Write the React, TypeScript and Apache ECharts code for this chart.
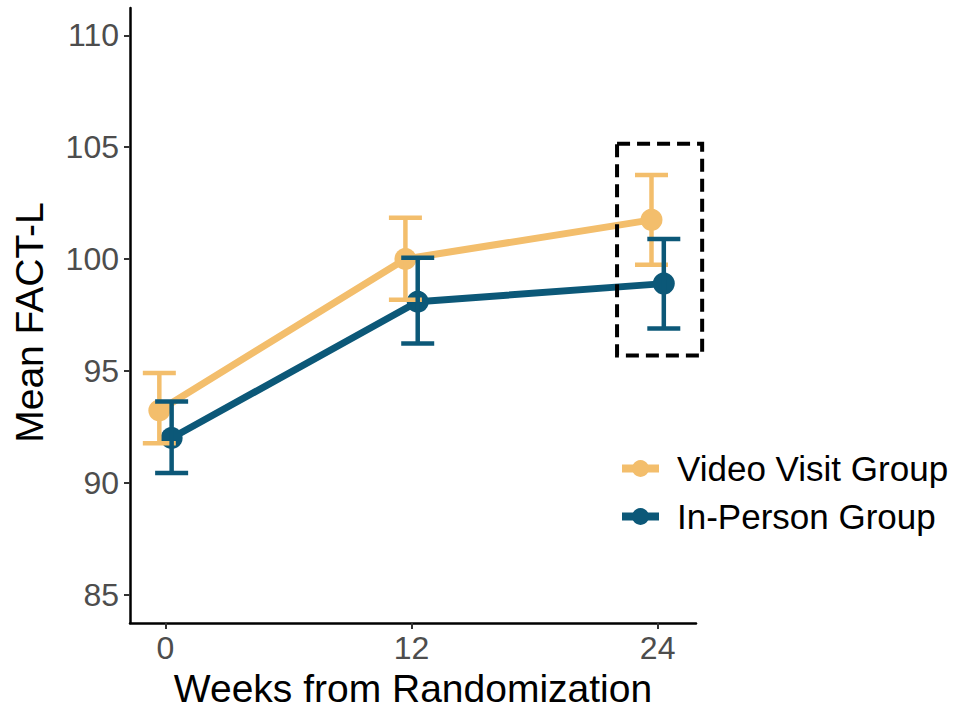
import React, { useEffect, useRef } from "react";
import * as echarts from "echarts";

const weeks = [0, 12, 24];
const groupNames = ["Video Visit Group", "In-Person Group"];
const videoMean = [93.23, 100.0, 101.75];
const videoLower = [91.77, 98.18, 99.74];
const videoUpper = [94.9, 101.84, 103.76];
const inPersonMean = [92.0, 98.09, 98.9];
const inPersonLower = [90.44, 96.22, 96.89];
const inPersonUpper = [93.63, 100.06, 100.9];
const dodge = [-0.3, 0.3];
const xTicks = [0, 12, 24];
const yTicks = [85, 90, 95, 100, 105, 110];
// highlight box: [week from, FACT-L top, week to, FACT-L bottom]
const highlightBox = [22.02, 105.15, 26.17, 95.69];

const colors = ["#F3BE6C", "#0C5878"];
const FONT = "Liberation Sans, Arial, sans-serif";

function errorSeries(g: number, lower: number[], upper: number[]) {
  const color = colors[g];
  return {
    type: "custom",
    z: 4,
    data: weeks.map((w, i) => [w + dodge[g], lower[i], upper[i]]),
    encode: { x: 0, y: [1, 2] },
    renderItem: (params: any, api: any) => {
      const x = api.value(0);
      const top = api.coord([x, api.value(2)]);
      const bot = api.coord([x, api.value(1)]);
      const half = 16.5;
      const st = { stroke: color, lineWidth: 4.5 };
      return {
        type: "group",
        children: [
          { type: "line", shape: { x1: top[0], y1: top[1], x2: bot[0], y2: bot[1] }, style: st },
          { type: "line", shape: { x1: top[0] - half, y1: top[1], x2: top[0] + half, y2: top[1] }, style: st },
          { type: "line", shape: { x1: bot[0] - half, y1: bot[1], x2: bot[0] + half, y2: bot[1] }, style: st },
        ],
      };
    },
  };
}

function lineSeries(g: number, mean: number[]) {
  return {
    type: "line",
    name: groupNames[g],
    z: 3,
    data: weeks.map((w, i) => [w + dodge[g], mean[i]]),
    symbol: "circle",
    symbolSize: 22,
    showSymbol: true,
    itemStyle: { color: colors[g] },
    lineStyle: { color: colors[g], width: 7 },
    clip: false,
  };
}

export default function App() {
  const ref = useRef<HTMLDivElement>(null);
  useEffect(() => {
    if (!ref.current) return;
    const chart = echarts.init(ref.current, undefined, { renderer: "svg" });
    chart.setOption({
      animation: false,
      backgroundColor: "#ffffff",
      textStyle: { fontFamily: FONT },
      grid: { left: 130, right: 264, top: 8, bottom: 83, outerBoundsMode: "none" },
      xAxis: {
        type: "value",
        min: -1.73,
        max: 25.87,
        name: "Weeks from Randomization",
        nameLocation: "middle",
        nameGap: 35,
        nameTextStyle: { fontSize: 39, lineHeight: 40, color: "#000", fontFamily: FONT },
        axisLine: { show: true, onZero: false, lineStyle: { color: "#000", width: 2.5 } },
        axisTick: { show: true, customValues: xTicks, length: 6, lineStyle: { color: "#333", width: 2 } },
        axisLabel: { customValues: xTicks, fontSize: 32, color: "#4d4d4d", margin: 9, fontFamily: FONT },
        splitLine: { show: false },
      },
      yAxis: {
        type: "value",
        min: 83.73,
        max: 111.22,
        name: "Mean FACT-L",
        nameLocation: "middle",
        nameGap: 81,
        nameTextStyle: { fontSize: 39, color: "#000", fontFamily: FONT, padding: [0, 14, 0, 0] },
        axisLine: { show: true, onZero: false, lineStyle: { color: "#000", width: 2.5 } },
        axisTick: { show: true, customValues: yTicks, length: 6, lineStyle: { color: "#333", width: 2 } },
        axisLabel: { customValues: yTicks, fontSize: 32, color: "#4d4d4d", margin: 11, fontFamily: FONT },
        splitLine: { show: false },
      },
      legend: {
        data: groupNames,
        orient: "vertical",
        left: 613,
        top: 445,
        itemWidth: 37,
        itemHeight: 21,
        itemGap: 11,
        lineStyle: { width: 8 },
        textStyle: { fontSize: 35, color: "#000", fontFamily: FONT, padding: [0, 0, 0, 13], lineHeight: 37 },
      },
      series: [
        lineSeries(0, videoMean),
        lineSeries(1, inPersonMean),
        errorSeries(0, videoLower, videoUpper),
        errorSeries(1, inPersonLower, inPersonUpper),
        {
          type: "custom",
          z: 5,
          data: [highlightBox],
          encode: { x: [0, 2], y: [1, 3] },
          renderItem: (params: any, api: any) => {
            const p0 = api.coord([api.value(0), api.value(1)]);
            const p1 = api.coord([api.value(2), api.value(3)]);
            return {
              type: "rect",
              shape: { x: p0[0], y: p0[1], width: p1[0] - p0[0], height: p1[1] - p0[1] },
              style: { fill: "none", stroke: "#000", lineWidth: 4, lineDash: [13, 7] },
            };
          },
        },
      ],
    });
    return () => chart.dispose();
  }, []);
  return <div ref={ref} style={{ width: 960, height: 706, position: "absolute", left: 0, top: 0 }} />;
}
